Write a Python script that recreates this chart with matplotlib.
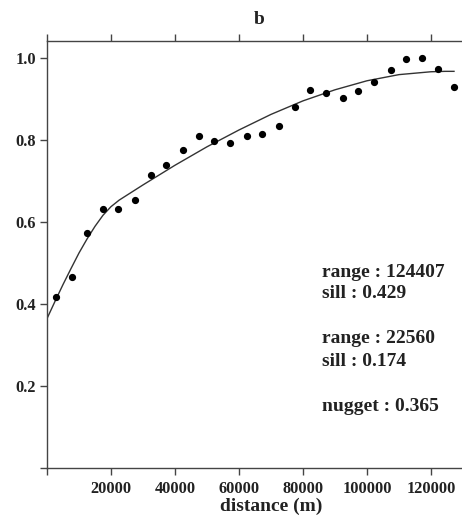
import numpy as np
import matplotlib.pyplot as plt

plt.rcParams['font.family'] = ['Liberation Serif', 'DejaVu Serif']
plt.rcParams['font.weight'] = 'bold'

# semivariogram points
dist = [2900, 7700, 12400, 17600, 22200, 27400, 32500, 37200, 42400, 47500,
        52200, 57100, 62500, 67200, 72400, 77500, 82200, 87300, 92400, 97200,
        102300, 107400, 112300, 117200, 122300, 127200]
gamma = [0.417, 0.467, 0.575, 0.632, 0.632, 0.654, 0.715, 0.740, 0.775, 0.810,
         0.799, 0.794, 0.811, 0.815, 0.834, 0.882, 0.922, 0.915, 0.904, 0.919,
         0.941, 0.971, 0.997, 1.001, 0.974, 0.929]

# fitted model line
fit_x = [0, 2500, 5000, 7500, 10000, 12500, 15000, 17500, 20000, 22560,
         30000, 40000, 50000, 60000, 70000, 80000, 90000, 100000, 110000,
         120000, 124407, 127200]
fit_y = [0.365, 0.407, 0.448, 0.487, 0.525, 0.559, 0.590, 0.617, 0.638, 0.654,
         0.691, 0.739, 0.784, 0.825, 0.863, 0.896, 0.923, 0.945, 0.960,
         0.967, 0.968, 0.968]

notes = ['range : 124407', 'sill : 0.429', 'range : 22560', 'sill : 0.174', 'nugget : 0.365']
note_y = [0.467, 0.415, 0.306, 0.250, 0.140]

xticks = [0, 20000, 40000, 60000, 80000, 100000, 120000]
yticks = [0, 0.2, 0.4, 0.6, 0.8, 1.0]

fig = plt.figure(figsize=(4.62, 5.17), dpi=100)
ax = fig.add_axes([0.1017, 0.0942, 0.8983, 0.8265])

ax.plot(fit_x, fit_y, color='#333333', lw=1.0)
ax.plot(dist, gamma, 'o', color='black', markersize=4.2)

ax.set_xlim(0, 129700)
ax.set_ylim(0, 1.042)

ax.set_xticks(xticks)
ax.set_xticklabels([''] + [str(t) for t in xticks[1:]])
ax.set_yticks(yticks)
ax.set_yticklabels([''] + ['%.1f' % t for t in yticks[1:]])
ax.tick_params(axis='both', direction='out', length=5, width=1, color='#444444',
               labelsize=11.8, labelcolor='#222222', pad=3)
ax.tick_params(axis='x', top=True, pad=4)
ax.spines['right'].set_visible(False)
for s in ['left', 'bottom', 'top']:
    ax.spines[s].set_color('#444444')
    ax.spines[s].set_linewidth(1)

for t, y in zip(notes, note_y):
    ax.text(85800, y, t, fontsize=14, fontweight='bold', color='#222222', va='baseline')

fig.text(0.561, 0.962, 'b', ha='center', va='center', fontsize=14, fontweight='bold', color='#222222')
fig.text(0.588, 0.02, 'distance (m)', ha='center', va='center', fontsize=14,
         fontweight='bold', color='#222222')

fig.savefig('out.png', dpi=100)
